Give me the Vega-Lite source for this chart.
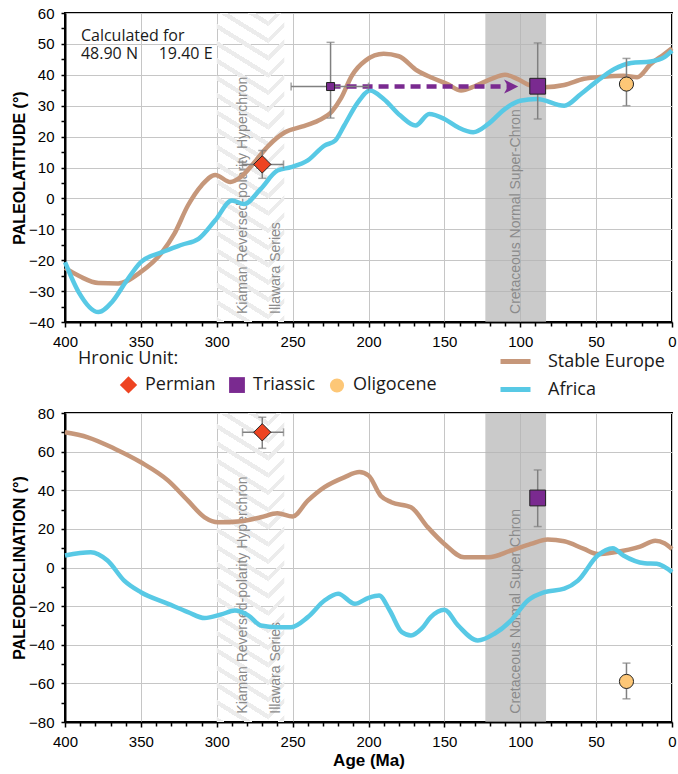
{
  "$schema": "https://vega.github.io/schema/vega-lite/v6.json",
  "padding": {"left": 10, "top": 5, "right": 0, "bottom": 2},
  "background": "white",
  "config": {
    "view": {"stroke": "black", "strokeWidth": 2},
    "font": "Liberation Sans",
    "axis": {
      "domainColor": "black", "domainWidth": 2,
      "tickColor": "black", "tickWidth": 1.5, "tickSize": 4,
      "gridColor": "#c6c6c6", "gridWidth": 1,
      "labelFont": "Liberation Sans", "labelFontSize": 15, "labelColor": "black", "labelPadding": 7,
      "labelFlush": false, "labelOverlap": false,
      "titleFont": "Liberation Sans", "titleFontWeight": "bold", "titleColor": "black"
    },
    "legend": {
      "labelFont": "Open Sans", "labelFontSize": 18, "labelColor": "#1a1a1a",
      "titleFont": "Open Sans", "titleFontSize": 18, "titleFontWeight": "normal", "titleColor": "#1a1a1a",
      "padding": 0
    }
  },
  "datasets": {
    "latitude": [
      {"plate": "Stable Europe", "age": 400, "v": -22.5},
      {"plate": "Stable Europe", "age": 390, "v": -25.3},
      {"plate": "Stable Europe", "age": 378, "v": -27.4},
      {"plate": "Stable Europe", "age": 365, "v": -27.5},
      {"plate": "Stable Europe", "age": 350, "v": -23.8},
      {"plate": "Stable Europe", "age": 336, "v": -17.4},
      {"plate": "Stable Europe", "age": 328, "v": -11.5},
      {"plate": "Stable Europe", "age": 319, "v": -2.3},
      {"plate": "Stable Europe", "age": 310, "v": 4.2},
      {"plate": "Stable Europe", "age": 301, "v": 7.6},
      {"plate": "Stable Europe", "age": 291, "v": 5.3},
      {"plate": "Stable Europe", "age": 284, "v": 7},
      {"plate": "Stable Europe", "age": 275, "v": 11.8},
      {"plate": "Stable Europe", "age": 266, "v": 17},
      {"plate": "Stable Europe", "age": 255, "v": 21.4},
      {"plate": "Stable Europe", "age": 244, "v": 23.2},
      {"plate": "Stable Europe", "age": 233, "v": 25.2},
      {"plate": "Stable Europe", "age": 224, "v": 28.2},
      {"plate": "Stable Europe", "age": 218, "v": 32.5},
      {"plate": "Stable Europe", "age": 211, "v": 39.7},
      {"plate": "Stable Europe", "age": 202, "v": 44.6},
      {"plate": "Stable Europe", "age": 190, "v": 46.8},
      {"plate": "Stable Europe", "age": 180, "v": 46},
      {"plate": "Stable Europe", "age": 168, "v": 41.4},
      {"plate": "Stable Europe", "age": 159, "v": 39.2},
      {"plate": "Stable Europe", "age": 148, "v": 37},
      {"plate": "Stable Europe", "age": 139, "v": 34.9},
      {"plate": "Stable Europe", "age": 130, "v": 36.3},
      {"plate": "Stable Europe", "age": 119, "v": 38.7},
      {"plate": "Stable Europe", "age": 110, "v": 40},
      {"plate": "Stable Europe", "age": 102, "v": 38.7},
      {"plate": "Stable Europe", "age": 93, "v": 36.5},
      {"plate": "Stable Europe", "age": 84, "v": 36},
      {"plate": "Stable Europe", "age": 71, "v": 36.7},
      {"plate": "Stable Europe", "age": 58, "v": 38.7},
      {"plate": "Stable Europe", "age": 45, "v": 39.4},
      {"plate": "Stable Europe", "age": 32, "v": 39.7},
      {"plate": "Stable Europe", "age": 23, "v": 39.2},
      {"plate": "Stable Europe", "age": 14, "v": 43.5},
      {"plate": "Stable Europe", "age": 5, "v": 46.7},
      {"plate": "Stable Europe", "age": 0, "v": 48.6},
      {"plate": "Africa", "age": 400, "v": -20.6},
      {"plate": "Africa", "age": 391, "v": -30.3},
      {"plate": "Africa", "age": 378, "v": -36.8},
      {"plate": "Africa", "age": 369, "v": -33.5},
      {"plate": "Africa", "age": 360, "v": -27.1},
      {"plate": "Africa", "age": 350, "v": -20.6},
      {"plate": "Africa", "age": 336, "v": -17.4},
      {"plate": "Africa", "age": 323, "v": -15},
      {"plate": "Africa", "age": 312, "v": -13.1},
      {"plate": "Africa", "age": 301, "v": -7.1},
      {"plate": "Africa", "age": 290, "v": -0.7},
      {"plate": "Africa", "age": 282, "v": -1.8},
      {"plate": "Africa", "age": 271, "v": 3.1},
      {"plate": "Africa", "age": 260, "v": 9},
      {"plate": "Africa", "age": 251, "v": 10.1},
      {"plate": "Africa", "age": 240, "v": 12.3},
      {"plate": "Africa", "age": 229, "v": 17.1},
      {"plate": "Africa", "age": 222, "v": 18.7},
      {"plate": "Africa", "age": 216, "v": 23.6},
      {"plate": "Africa", "age": 207, "v": 31.1},
      {"plate": "Africa", "age": 199, "v": 34.9},
      {"plate": "Africa", "age": 190, "v": 32.2},
      {"plate": "Africa", "age": 179, "v": 26.8},
      {"plate": "Africa", "age": 169, "v": 23.6},
      {"plate": "Africa", "age": 160, "v": 27.3},
      {"plate": "Africa", "age": 150, "v": 25.7},
      {"plate": "Africa", "age": 141, "v": 23},
      {"plate": "Africa", "age": 131, "v": 21.4},
      {"plate": "Africa", "age": 121, "v": 24.1},
      {"plate": "Africa", "age": 110, "v": 29},
      {"plate": "Africa", "age": 100, "v": 31.6},
      {"plate": "Africa", "age": 89, "v": 32.2},
      {"plate": "Africa", "age": 71, "v": 30},
      {"plate": "Africa", "age": 60, "v": 33.8},
      {"plate": "Africa", "age": 49, "v": 38.1},
      {"plate": "Africa", "age": 38, "v": 41.9},
      {"plate": "Africa", "age": 27, "v": 43.8},
      {"plate": "Africa", "age": 14, "v": 44.3},
      {"plate": "Africa", "age": 5, "v": 45.7},
      {"plate": "Africa", "age": 0, "v": 47.8}
    ],
    "declination": [
      {"plate": "Stable Europe", "age": 400, "v": 70},
      {"plate": "Stable Europe", "age": 385, "v": 67.4},
      {"plate": "Stable Europe", "age": 367, "v": 61.4},
      {"plate": "Stable Europe", "age": 350, "v": 54.5},
      {"plate": "Stable Europe", "age": 332, "v": 45},
      {"plate": "Stable Europe", "age": 319, "v": 34.6},
      {"plate": "Stable Europe", "age": 308, "v": 26},
      {"plate": "Stable Europe", "age": 299, "v": 23.4},
      {"plate": "Stable Europe", "age": 284, "v": 24},
      {"plate": "Stable Europe", "age": 271, "v": 26},
      {"plate": "Stable Europe", "age": 260, "v": 28.1},
      {"plate": "Stable Europe", "age": 250, "v": 26.4},
      {"plate": "Stable Europe", "age": 240, "v": 34.6},
      {"plate": "Stable Europe", "age": 229, "v": 41.6},
      {"plate": "Stable Europe", "age": 216, "v": 46.7},
      {"plate": "Stable Europe", "age": 206, "v": 49.4},
      {"plate": "Stable Europe", "age": 200, "v": 47.6},
      {"plate": "Stable Europe", "age": 192, "v": 37.2},
      {"plate": "Stable Europe", "age": 185, "v": 33.8},
      {"plate": "Stable Europe", "age": 172, "v": 31.2},
      {"plate": "Stable Europe", "age": 161, "v": 20.9},
      {"plate": "Stable Europe", "age": 150, "v": 12.2},
      {"plate": "Stable Europe", "age": 137, "v": 5.3},
      {"plate": "Stable Europe", "age": 121, "v": 5.3},
      {"plate": "Stable Europe", "age": 106, "v": 8.8},
      {"plate": "Stable Europe", "age": 93, "v": 12.2},
      {"plate": "Stable Europe", "age": 82, "v": 14.5},
      {"plate": "Stable Europe", "age": 71, "v": 13.6},
      {"plate": "Stable Europe", "age": 58, "v": 9.6},
      {"plate": "Stable Europe", "age": 49, "v": 7},
      {"plate": "Stable Europe", "age": 38, "v": 7.9},
      {"plate": "Stable Europe", "age": 21, "v": 10.8},
      {"plate": "Stable Europe", "age": 11, "v": 13.9},
      {"plate": "Stable Europe", "age": 5, "v": 12.6},
      {"plate": "Stable Europe", "age": 0, "v": 9.6},
      {"plate": "Africa", "age": 400, "v": 6.2},
      {"plate": "Africa", "age": 383, "v": 7.9},
      {"plate": "Africa", "age": 372, "v": 3.6},
      {"plate": "Africa", "age": 361, "v": -6.8},
      {"plate": "Africa", "age": 350, "v": -12.8},
      {"plate": "Africa", "age": 332, "v": -18.8},
      {"plate": "Africa", "age": 319, "v": -23.1},
      {"plate": "Africa", "age": 308, "v": -26.2},
      {"plate": "Africa", "age": 297, "v": -24.3},
      {"plate": "Africa", "age": 288, "v": -22.3},
      {"plate": "Africa", "age": 279, "v": -24.9},
      {"plate": "Africa", "age": 271, "v": -30},
      {"plate": "Africa", "age": 260, "v": -30.9},
      {"plate": "Africa", "age": 251, "v": -30.9},
      {"plate": "Africa", "age": 240, "v": -25.7},
      {"plate": "Africa", "age": 229, "v": -17.1},
      {"plate": "Africa", "age": 220, "v": -13.6},
      {"plate": "Africa", "age": 209, "v": -18.8},
      {"plate": "Africa", "age": 200, "v": -15.7},
      {"plate": "Africa", "age": 193, "v": -14.5},
      {"plate": "Africa", "age": 186, "v": -22.3},
      {"plate": "Africa", "age": 178, "v": -33.5},
      {"plate": "Africa", "age": 172, "v": -35.2},
      {"plate": "Africa", "age": 165, "v": -31.7},
      {"plate": "Africa", "age": 159, "v": -25.7},
      {"plate": "Africa", "age": 150, "v": -21.9},
      {"plate": "Africa", "age": 141, "v": -30},
      {"plate": "Africa", "age": 128, "v": -37.8},
      {"plate": "Africa", "age": 117, "v": -34.3},
      {"plate": "Africa", "age": 106, "v": -27.4},
      {"plate": "Africa", "age": 95, "v": -17.1},
      {"plate": "Africa", "age": 84, "v": -12.8},
      {"plate": "Africa", "age": 71, "v": -11},
      {"plate": "Africa", "age": 62, "v": -6.8},
      {"plate": "Africa", "age": 49, "v": 6.2},
      {"plate": "Africa", "age": 39, "v": 10},
      {"plate": "Africa", "age": 32, "v": 6.2},
      {"plate": "Africa", "age": 18, "v": 2.2},
      {"plate": "Africa", "age": 10, "v": 1.9},
      {"plate": "Africa", "age": 0, "v": -2.4}
    ],
    "results": [
      {"panel": "lat", "unit": "Permian", "kind": "final", "age": 270, "v": 11, "vlo": 6.5, "vhi": 15.5, "alo": 256, "ahi": 283},
      {"panel": "lat", "unit": "Triassic", "kind": "initial", "age": 225, "v": 36.2, "vlo": 26, "vhi": 50.5, "alo": 200, "ahi": 251},
      {"panel": "lat", "unit": "Triassic", "kind": "final", "age": 88.5, "v": 36.3, "vlo": 25.7, "vhi": 50.3},
      {"panel": "lat", "unit": "Oligocene", "kind": "final", "age": 30, "v": 37, "vlo": 30, "vhi": 45.3},
      {"panel": "dec", "unit": "Permian", "kind": "final", "age": 270, "v": 70, "vlo": 61.7, "vhi": 77.8, "alo": 256, "ahi": 283},
      {"panel": "dec", "unit": "Triassic", "kind": "final", "age": 88.5, "v": 36, "vlo": 21.2, "vhi": 50.5},
      {"panel": "dec", "unit": "Oligocene", "kind": "final", "age": 30, "v": -59, "vlo": -68, "vhi": -49.5}
    ],
    "shift": [
      {"age": 225, "v": 36.2, "head": false},
      {"age": 106, "v": 36.2, "head": true}
    ],
    "bands": [
      {"band": "Kiaman", "start": 300, "end": 266},
      {"band": "Illawara", "start": 266, "end": 255.5},
      {"band": "Cretaceous", "start": 123, "end": 83}
    ],
    "bandLabels": [
      {"age": 282.6, "text": "Kiaman Reversed-polarity Hyperchron"},
      {"age": 260.7, "text": "Illawara Series"},
      {"age": 102.8, "text": "Cretaceous Normal Super-Chron"}
    ],
    "note": [
      {"age": 389.5, "v": 55, "text": "Calculated for\n48.90 N \u00a0\u00a0\u00a0\u00a019.40 E"}
    ]
  },
  "bounds": "flush",
  "spacing": 91,
  "resolve": {"scale": {"fill": "independent", "shape": "independent", "size": "independent", "stroke": "independent"}},
  "vconcat": [
    {
      "width": 607,
      "height": 309,
      "resolve": {"axis": {"x": "independent", "y": "independent"}},
      "layer": [
        {
          "data": {"name": "bands"},
          "transform": [{"filter": "datum.band === 'Kiaman'"}],
          "mark": {"type": "rect", "fill": {"gradient": "linear", "x1": 0, "y1": 1, "x2": 0.1132, "y2": -0.092, "stops": [
            {"offset": 0, "color": "#ececec"}, {"offset": 0.0152, "color": "#ececec"}, {"offset": 0.0152, "color": "rgba(255,255,255,0)"}, {"offset": 0.0506, "color": "rgba(255,255,255,0)"},
            {"offset": 0.0506, "color": "#ececec"}, {"offset": 0.0658, "color": "#ececec"}, {"offset": 0.0658, "color": "rgba(255,255,255,0)"}, {"offset": 0.1012, "color": "rgba(255,255,255,0)"},
            {"offset": 0.1012, "color": "#ececec"}, {"offset": 0.1164, "color": "#ececec"}, {"offset": 0.1164, "color": "rgba(255,255,255,0)"}, {"offset": 0.1518, "color": "rgba(255,255,255,0)"},
            {"offset": 0.1518, "color": "#ececec"}, {"offset": 0.1669, "color": "#ececec"}, {"offset": 0.1669, "color": "rgba(255,255,255,0)"}, {"offset": 0.2023, "color": "rgba(255,255,255,0)"},
            {"offset": 0.2023, "color": "#ececec"}, {"offset": 0.2175, "color": "#ececec"}, {"offset": 0.2175, "color": "rgba(255,255,255,0)"}, {"offset": 0.2529, "color": "rgba(255,255,255,0)"},
            {"offset": 0.2529, "color": "#ececec"}, {"offset": 0.2681, "color": "#ececec"}, {"offset": 0.2681, "color": "rgba(255,255,255,0)"}, {"offset": 0.3035, "color": "rgba(255,255,255,0)"},
            {"offset": 0.3035, "color": "#ececec"}, {"offset": 0.3187, "color": "#ececec"}, {"offset": 0.3187, "color": "rgba(255,255,255,0)"}, {"offset": 0.3541, "color": "rgba(255,255,255,0)"},
            {"offset": 0.3541, "color": "#ececec"}, {"offset": 0.3693, "color": "#ececec"}, {"offset": 0.3693, "color": "rgba(255,255,255,0)"}, {"offset": 0.4047, "color": "rgba(255,255,255,0)"},
            {"offset": 0.4047, "color": "#ececec"}, {"offset": 0.4199, "color": "#ececec"}, {"offset": 0.4199, "color": "rgba(255,255,255,0)"}, {"offset": 0.4553, "color": "rgba(255,255,255,0)"},
            {"offset": 0.4553, "color": "#ececec"}, {"offset": 0.4705, "color": "#ececec"}, {"offset": 0.4705, "color": "rgba(255,255,255,0)"}, {"offset": 0.5059, "color": "rgba(255,255,255,0)"},
            {"offset": 0.5059, "color": "#ececec"}, {"offset": 0.521, "color": "#ececec"}, {"offset": 0.521, "color": "rgba(255,255,255,0)"}, {"offset": 0.5565, "color": "rgba(255,255,255,0)"},
            {"offset": 0.5565, "color": "#ececec"}, {"offset": 0.5716, "color": "#ececec"}, {"offset": 0.5716, "color": "rgba(255,255,255,0)"}, {"offset": 0.607, "color": "rgba(255,255,255,0)"},
            {"offset": 0.607, "color": "#ececec"}, {"offset": 0.6222, "color": "#ececec"}, {"offset": 0.6222, "color": "rgba(255,255,255,0)"}, {"offset": 0.6576, "color": "rgba(255,255,255,0)"},
            {"offset": 0.6576, "color": "#ececec"}, {"offset": 0.6728, "color": "#ececec"}, {"offset": 0.6728, "color": "rgba(255,255,255,0)"}, {"offset": 0.7082, "color": "rgba(255,255,255,0)"},
            {"offset": 0.7082, "color": "#ececec"}, {"offset": 0.7234, "color": "#ececec"}, {"offset": 0.7234, "color": "rgba(255,255,255,0)"}, {"offset": 0.7588, "color": "rgba(255,255,255,0)"},
            {"offset": 0.7588, "color": "#ececec"}, {"offset": 0.774, "color": "#ececec"}, {"offset": 0.774, "color": "rgba(255,255,255,0)"}, {"offset": 0.8094, "color": "rgba(255,255,255,0)"},
            {"offset": 0.8094, "color": "#ececec"}, {"offset": 0.8246, "color": "#ececec"}, {"offset": 0.8246, "color": "rgba(255,255,255,0)"}, {"offset": 0.86, "color": "rgba(255,255,255,0)"},
            {"offset": 0.86, "color": "#ececec"}, {"offset": 0.8752, "color": "#ececec"}, {"offset": 0.8752, "color": "rgba(255,255,255,0)"}, {"offset": 0.9106, "color": "rgba(255,255,255,0)"},
            {"offset": 0.9106, "color": "#ececec"}, {"offset": 0.9257, "color": "#ececec"}, {"offset": 0.9257, "color": "rgba(255,255,255,0)"}, {"offset": 0.9612, "color": "rgba(255,255,255,0)"},
            {"offset": 0.9612, "color": "#ececec"}, {"offset": 0.9763, "color": "#ececec"}, {"offset": 0.9763, "color": "rgba(255,255,255,0)"}, {"offset": 1, "color": "rgba(255,255,255,0)"}
          ]}},
          "encoding": {
            "x": {
              "field": "start", "type": "quantitative",
              "scale": {"domain": [0, 400], "reverse": true, "nice": false, "zero": false},
              "axis": {"orient": "bottom", "title": null, "values": [0, 50, 100, 150, 200, 250, 300, 350, 400], "grid": true, "tickSize": 5}
            },
            "x2": {"field": "end"}
          }
        },
        {
          "data": {"name": "bands"},
          "transform": [{"filter": "datum.band === 'Illawara'"}],
          "mark": {"type": "rect", "fill": {"gradient": "linear", "x1": 0, "y1": 0, "x2": 0.0543, "y2": 1.049, "stops": [
            {"offset": 0, "color": "rgba(255,255,255,0)"},
            {"offset": 0.0248, "color": "rgba(255,255,255,0)"}, {"offset": 0.0248, "color": "#ececec"}, {"offset": 0.0408, "color": "#ececec"}, {"offset": 0.0408, "color": "rgba(255,255,255,0)"},
            {"offset": 0.0779, "color": "rgba(255,255,255,0)"}, {"offset": 0.0779, "color": "#ececec"}, {"offset": 0.0938, "color": "#ececec"}, {"offset": 0.0938, "color": "rgba(255,255,255,0)"},
            {"offset": 0.131, "color": "rgba(255,255,255,0)"}, {"offset": 0.131, "color": "#ececec"}, {"offset": 0.1469, "color": "#ececec"}, {"offset": 0.1469, "color": "rgba(255,255,255,0)"},
            {"offset": 0.1841, "color": "rgba(255,255,255,0)"}, {"offset": 0.1841, "color": "#ececec"}, {"offset": 0.2, "color": "#ececec"}, {"offset": 0.2, "color": "rgba(255,255,255,0)"},
            {"offset": 0.2372, "color": "rgba(255,255,255,0)"}, {"offset": 0.2372, "color": "#ececec"}, {"offset": 0.2531, "color": "#ececec"}, {"offset": 0.2531, "color": "rgba(255,255,255,0)"},
            {"offset": 0.2902, "color": "rgba(255,255,255,0)"}, {"offset": 0.2902, "color": "#ececec"}, {"offset": 0.3062, "color": "#ececec"}, {"offset": 0.3062, "color": "rgba(255,255,255,0)"},
            {"offset": 0.3433, "color": "rgba(255,255,255,0)"}, {"offset": 0.3433, "color": "#ececec"}, {"offset": 0.3592, "color": "#ececec"}, {"offset": 0.3592, "color": "rgba(255,255,255,0)"},
            {"offset": 0.3964, "color": "rgba(255,255,255,0)"}, {"offset": 0.3964, "color": "#ececec"}, {"offset": 0.4123, "color": "#ececec"}, {"offset": 0.4123, "color": "rgba(255,255,255,0)"},
            {"offset": 0.4495, "color": "rgba(255,255,255,0)"}, {"offset": 0.4495, "color": "#ececec"}, {"offset": 0.4654, "color": "#ececec"}, {"offset": 0.4654, "color": "rgba(255,255,255,0)"},
            {"offset": 0.5025, "color": "rgba(255,255,255,0)"}, {"offset": 0.5025, "color": "#ececec"}, {"offset": 0.5185, "color": "#ececec"}, {"offset": 0.5185, "color": "rgba(255,255,255,0)"},
            {"offset": 0.5556, "color": "rgba(255,255,255,0)"}, {"offset": 0.5556, "color": "#ececec"}, {"offset": 0.5715, "color": "#ececec"}, {"offset": 0.5715, "color": "rgba(255,255,255,0)"},
            {"offset": 0.6087, "color": "rgba(255,255,255,0)"}, {"offset": 0.6087, "color": "#ececec"}, {"offset": 0.6246, "color": "#ececec"}, {"offset": 0.6246, "color": "rgba(255,255,255,0)"},
            {"offset": 0.6618, "color": "rgba(255,255,255,0)"}, {"offset": 0.6618, "color": "#ececec"}, {"offset": 0.6777, "color": "#ececec"}, {"offset": 0.6777, "color": "rgba(255,255,255,0)"},
            {"offset": 0.7148, "color": "rgba(255,255,255,0)"}, {"offset": 0.7148, "color": "#ececec"}, {"offset": 0.7308, "color": "#ececec"}, {"offset": 0.7308, "color": "rgba(255,255,255,0)"},
            {"offset": 0.7679, "color": "rgba(255,255,255,0)"}, {"offset": 0.7679, "color": "#ececec"}, {"offset": 0.7838, "color": "#ececec"}, {"offset": 0.7838, "color": "rgba(255,255,255,0)"},
            {"offset": 0.821, "color": "rgba(255,255,255,0)"}, {"offset": 0.821, "color": "#ececec"}, {"offset": 0.8369, "color": "#ececec"}, {"offset": 0.8369, "color": "rgba(255,255,255,0)"},
            {"offset": 0.8741, "color": "rgba(255,255,255,0)"}, {"offset": 0.8741, "color": "#ececec"}, {"offset": 0.89, "color": "#ececec"}, {"offset": 0.89, "color": "rgba(255,255,255,0)"},
            {"offset": 0.9272, "color": "rgba(255,255,255,0)"}, {"offset": 0.9272, "color": "#ececec"}, {"offset": 0.9431, "color": "#ececec"}, {"offset": 0.9431, "color": "rgba(255,255,255,0)"},
            {"offset": 0.9802, "color": "rgba(255,255,255,0)"}, {"offset": 0.9802, "color": "#ececec"}, {"offset": 0.9962, "color": "#ececec"}, {"offset": 0.9962, "color": "rgba(255,255,255,0)"},
            {"offset": 1, "color": "rgba(255,255,255,0)"}
          ]}},
          "encoding": {"x": {"field": "start", "type": "quantitative", "axis": null}, "x2": {"field": "end"}}
        },
        {
          "data": {"name": "bands"},
          "transform": [{"filter": "datum.band === 'Cretaceous'"}],
          "mark": {"type": "rect", "fill": "#b4b4b4", "opacity": 0.7},
          "encoding": {"x": {"field": "start", "type": "quantitative", "axis": null}, "x2": {"field": "end"}}
        },
        {
          "data": {"name": "bandLabels"},
          "mark": {"type": "text", "angle": 270, "align": "left", "baseline": "middle", "font": "Liberation Sans", "fontSize": 14, "color": "#8a8a8a"},
          "encoding": {
            "x": {"field": "age", "type": "quantitative", "axis": null},
            "y": {"datum": -37.4, "type": "quantitative", "axis": null},
            "text": {"field": "text"}
          }
        },
        {
          "data": {"name": "latitude"},
          "mark": {"type": "line", "interpolate": "monotone", "strokeWidth": 4.5},
          "encoding": {
            "x": {
              "field": "age", "type": "quantitative",
              "axis": {"orient": "bottom", "title": null, "values": [10, 20, 30, 40, 60, 70, 80, 90, 110, 120, 130, 140, 160, 170, 180, 190, 210, 220, 230, 240, 260, 270, 280, 290, 310, 320, 330, 340, 360, 370, 380, 390], "labels": false, "grid": false, "domain": false, "tickSize": 4}
            },
            "y": {
              "field": "v", "type": "quantitative",
              "scale": {"domain": [-40, 60], "nice": false, "zero": false},
              "axis": {"orient": "left", "title": "PALEOLATITUDE (°)", "titleFontSize": 16, "titlePadding": 1, "values": [-40, -30, -20, -10, 0, 10, 20, 30, 40, 50, 60], "grid": true, "tickSize": 4}
            },
            "stroke": {
              "field": "plate", "type": "nominal",
              "scale": {"domain": ["Stable Europe", "Africa"], "range": ["#c6977a", "#58c9e5"]},
              "legend": {
                "title": null, "orient": "none", "legendX": 433, "legendY": 331, "direction": "vertical",
                "symbolType": "stroke", "symbolStrokeWidth": 5, "symbolSize": 900, "labelOffset": 15, "rowPadding": -4
              }
            }
          }
        },
        {
          "data": {"name": "shift"},
          "mark": {"type": "line", "color": "#7a2a90", "strokeWidth": 4.5, "strokeDash": [10, 6]},
          "encoding": {"x": {"field": "age", "type": "quantitative", "axis": null}, "y": {"field": "v", "type": "quantitative", "axis": null}}
        },
        {
          "data": {"name": "shift"},
          "transform": [{"filter": "datum.head"}],
          "mark": {"type": "point", "shape": "M-1,-1L1,0L-1,1L-0.45,0Z", "size": 200, "filled": true, "color": "#7a2a90", "opacity": 1},
          "encoding": {"x": {"field": "age", "type": "quantitative", "axis": null}, "y": {"field": "v", "type": "quantitative", "axis": null}}
        },
        {
          "data": {"name": "results"},
          "transform": [{"filter": "datum.panel === 'lat'"}],
          "mark": {"type": "errorbar", "color": "#808080", "thickness": 1.5, "ticks": {"size": 8, "thickness": 1.5}},
          "encoding": {
            "x": {"field": "age", "type": "quantitative", "axis": null},
            "y": {
              "field": "vlo", "type": "quantitative",
              "axis": {"orient": "left", "title": null, "values": [-35, -25, -15, -5, 5, 15, 25, 35, 45, 55], "labels": false, "grid": false, "domain": false, "tickSize": 4}
            },
            "y2": {"field": "vhi"}
          }
        },
        {
          "data": {"name": "results"},
          "transform": [{"filter": "datum.panel === 'lat' && isValid(datum.alo)"}],
          "mark": {"type": "errorbar", "color": "#808080", "thickness": 1.5, "ticks": {"size": 8, "thickness": 1.5}},
          "encoding": {
            "y": {"field": "v", "type": "quantitative", "axis": null},
            "x": {"field": "alo", "type": "quantitative", "axis": null},
            "x2": {"field": "ahi"}
          }
        },
        {
          "data": {"name": "results"},
          "transform": [{"filter": "datum.panel === 'lat' && datum.kind === 'initial'"}],
          "mark": {"type": "point", "shape": "square", "size": 64, "filled": true, "color": "#7a2a90", "stroke": "#222", "strokeWidth": 1, "opacity": 1},
          "encoding": {"x": {"field": "age", "type": "quantitative", "axis": null}, "y": {"field": "v", "type": "quantitative", "axis": null}}
        },
        {
          "data": {"name": "results"},
          "transform": [{"filter": "datum.panel === 'lat' && datum.kind === 'final'"}],
          "mark": {"type": "point", "filled": true, "stroke": "#222", "strokeWidth": 1, "opacity": 1},
          "encoding": {
            "x": {"field": "age", "type": "quantitative", "axis": null},
            "y": {"field": "v", "type": "quantitative", "axis": null},
            "fill": {
              "field": "unit", "type": "nominal",
              "scale": {"domain": ["Permian", "Triassic", "Oligocene"], "range": ["#ee4422", "#7a2a90", "#fdc777"]},
              "legend": {"title": "Hronic Unit:", "orient": "none", "legendX": 13, "legendY": 362, "direction": "horizontal", "titleOrient": "left", "titleAnchor": "start", "titleBaseline": "line-bottom", "titleLineHeight": 32, "titlePadding": -60, "symbolStrokeColor": "#222", "symbolStrokeWidth": 1, "labelOffset": 7, "columnPadding": 11}
            },
            "shape": {
              "field": "unit", "type": "nominal",
              "scale": {"domain": ["Permian", "Triassic", "Oligocene"], "range": ["diamond", "square", "circle"]},
              "legend": {"title": "Hronic Unit:", "orient": "none", "legendX": 13, "legendY": 362, "direction": "horizontal", "titleOrient": "left", "titleAnchor": "start", "titleBaseline": "line-bottom", "titleLineHeight": 32, "titlePadding": -60, "symbolStrokeColor": "#222", "symbolStrokeWidth": 1, "labelOffset": 7, "columnPadding": 11}
            },
            "size": {
              "field": "unit", "type": "nominal",
              "scale": {"domain": ["Permian", "Triassic", "Oligocene"], "range": [300, 200, 250]},
              "legend": {"title": "Hronic Unit:", "orient": "none", "legendX": 13, "legendY": 362, "direction": "horizontal", "titleOrient": "left", "titleAnchor": "start", "titleBaseline": "line-bottom", "titleLineHeight": 32, "titlePadding": -60, "symbolStrokeColor": "#222", "symbolStrokeWidth": 1, "labelOffset": 7, "columnPadding": 11}
            }
          }
        },
        {
          "data": {"name": "note"},
          "mark": {"type": "text", "align": "left", "baseline": "top", "lineBreak": "\n", "lineHeight": 18, "font": "Open Sans", "fontSize": 16, "color": "#1a1a1a"},
          "encoding": {"x": {"field": "age", "type": "quantitative", "axis": null}, "y": {"field": "v", "type": "quantitative", "axis": null}, "text": {"field": "text"}}
        }
      ]
    },
    {
      "width": 607,
      "height": 309,
      "resolve": {"axis": {"x": "independent", "y": "independent"}},
      "layer": [
        {
          "data": {"name": "bands"},
          "transform": [{"filter": "datum.band === 'Kiaman'"}],
          "mark": {"type": "rect", "fill": {"gradient": "linear", "x1": 0, "y1": 1, "x2": 0.1132, "y2": -0.092, "stops": [
            {"offset": 0, "color": "#ececec"}, {"offset": 0.0152, "color": "#ececec"}, {"offset": 0.0152, "color": "rgba(255,255,255,0)"}, {"offset": 0.0506, "color": "rgba(255,255,255,0)"},
            {"offset": 0.0506, "color": "#ececec"}, {"offset": 0.0658, "color": "#ececec"}, {"offset": 0.0658, "color": "rgba(255,255,255,0)"}, {"offset": 0.1012, "color": "rgba(255,255,255,0)"},
            {"offset": 0.1012, "color": "#ececec"}, {"offset": 0.1164, "color": "#ececec"}, {"offset": 0.1164, "color": "rgba(255,255,255,0)"}, {"offset": 0.1518, "color": "rgba(255,255,255,0)"},
            {"offset": 0.1518, "color": "#ececec"}, {"offset": 0.1669, "color": "#ececec"}, {"offset": 0.1669, "color": "rgba(255,255,255,0)"}, {"offset": 0.2023, "color": "rgba(255,255,255,0)"},
            {"offset": 0.2023, "color": "#ececec"}, {"offset": 0.2175, "color": "#ececec"}, {"offset": 0.2175, "color": "rgba(255,255,255,0)"}, {"offset": 0.2529, "color": "rgba(255,255,255,0)"},
            {"offset": 0.2529, "color": "#ececec"}, {"offset": 0.2681, "color": "#ececec"}, {"offset": 0.2681, "color": "rgba(255,255,255,0)"}, {"offset": 0.3035, "color": "rgba(255,255,255,0)"},
            {"offset": 0.3035, "color": "#ececec"}, {"offset": 0.3187, "color": "#ececec"}, {"offset": 0.3187, "color": "rgba(255,255,255,0)"}, {"offset": 0.3541, "color": "rgba(255,255,255,0)"},
            {"offset": 0.3541, "color": "#ececec"}, {"offset": 0.3693, "color": "#ececec"}, {"offset": 0.3693, "color": "rgba(255,255,255,0)"}, {"offset": 0.4047, "color": "rgba(255,255,255,0)"},
            {"offset": 0.4047, "color": "#ececec"}, {"offset": 0.4199, "color": "#ececec"}, {"offset": 0.4199, "color": "rgba(255,255,255,0)"}, {"offset": 0.4553, "color": "rgba(255,255,255,0)"},
            {"offset": 0.4553, "color": "#ececec"}, {"offset": 0.4705, "color": "#ececec"}, {"offset": 0.4705, "color": "rgba(255,255,255,0)"}, {"offset": 0.5059, "color": "rgba(255,255,255,0)"},
            {"offset": 0.5059, "color": "#ececec"}, {"offset": 0.521, "color": "#ececec"}, {"offset": 0.521, "color": "rgba(255,255,255,0)"}, {"offset": 0.5565, "color": "rgba(255,255,255,0)"},
            {"offset": 0.5565, "color": "#ececec"}, {"offset": 0.5716, "color": "#ececec"}, {"offset": 0.5716, "color": "rgba(255,255,255,0)"}, {"offset": 0.607, "color": "rgba(255,255,255,0)"},
            {"offset": 0.607, "color": "#ececec"}, {"offset": 0.6222, "color": "#ececec"}, {"offset": 0.6222, "color": "rgba(255,255,255,0)"}, {"offset": 0.6576, "color": "rgba(255,255,255,0)"},
            {"offset": 0.6576, "color": "#ececec"}, {"offset": 0.6728, "color": "#ececec"}, {"offset": 0.6728, "color": "rgba(255,255,255,0)"}, {"offset": 0.7082, "color": "rgba(255,255,255,0)"},
            {"offset": 0.7082, "color": "#ececec"}, {"offset": 0.7234, "color": "#ececec"}, {"offset": 0.7234, "color": "rgba(255,255,255,0)"}, {"offset": 0.7588, "color": "rgba(255,255,255,0)"},
            {"offset": 0.7588, "color": "#ececec"}, {"offset": 0.774, "color": "#ececec"}, {"offset": 0.774, "color": "rgba(255,255,255,0)"}, {"offset": 0.8094, "color": "rgba(255,255,255,0)"},
            {"offset": 0.8094, "color": "#ececec"}, {"offset": 0.8246, "color": "#ececec"}, {"offset": 0.8246, "color": "rgba(255,255,255,0)"}, {"offset": 0.86, "color": "rgba(255,255,255,0)"},
            {"offset": 0.86, "color": "#ececec"}, {"offset": 0.8752, "color": "#ececec"}, {"offset": 0.8752, "color": "rgba(255,255,255,0)"}, {"offset": 0.9106, "color": "rgba(255,255,255,0)"},
            {"offset": 0.9106, "color": "#ececec"}, {"offset": 0.9257, "color": "#ececec"}, {"offset": 0.9257, "color": "rgba(255,255,255,0)"}, {"offset": 0.9612, "color": "rgba(255,255,255,0)"},
            {"offset": 0.9612, "color": "#ececec"}, {"offset": 0.9763, "color": "#ececec"}, {"offset": 0.9763, "color": "rgba(255,255,255,0)"}, {"offset": 1, "color": "rgba(255,255,255,0)"}
          ]}},
          "encoding": {
            "x": {
              "field": "start", "type": "quantitative",
              "scale": {"domain": [0, 400], "reverse": true, "nice": false, "zero": false},
              "axis": {"orient": "bottom", "title": "Age (Ma)", "titleFontSize": 17, "titlePadding": 3, "values": [0, 50, 100, 150, 200, 250, 300, 350, 400], "grid": true, "tickSize": 5}
            },
            "x2": {"field": "end"}
          }
        },
        {
          "data": {"name": "bands"},
          "transform": [{"filter": "datum.band === 'Illawara'"}],
          "mark": {"type": "rect", "fill": {"gradient": "linear", "x1": 0, "y1": 0, "x2": 0.0543, "y2": 1.049, "stops": [
            {"offset": 0, "color": "rgba(255,255,255,0)"},
            {"offset": 0.0248, "color": "rgba(255,255,255,0)"}, {"offset": 0.0248, "color": "#ececec"}, {"offset": 0.0408, "color": "#ececec"}, {"offset": 0.0408, "color": "rgba(255,255,255,0)"},
            {"offset": 0.0779, "color": "rgba(255,255,255,0)"}, {"offset": 0.0779, "color": "#ececec"}, {"offset": 0.0938, "color": "#ececec"}, {"offset": 0.0938, "color": "rgba(255,255,255,0)"},
            {"offset": 0.131, "color": "rgba(255,255,255,0)"}, {"offset": 0.131, "color": "#ececec"}, {"offset": 0.1469, "color": "#ececec"}, {"offset": 0.1469, "color": "rgba(255,255,255,0)"},
            {"offset": 0.1841, "color": "rgba(255,255,255,0)"}, {"offset": 0.1841, "color": "#ececec"}, {"offset": 0.2, "color": "#ececec"}, {"offset": 0.2, "color": "rgba(255,255,255,0)"},
            {"offset": 0.2372, "color": "rgba(255,255,255,0)"}, {"offset": 0.2372, "color": "#ececec"}, {"offset": 0.2531, "color": "#ececec"}, {"offset": 0.2531, "color": "rgba(255,255,255,0)"},
            {"offset": 0.2902, "color": "rgba(255,255,255,0)"}, {"offset": 0.2902, "color": "#ececec"}, {"offset": 0.3062, "color": "#ececec"}, {"offset": 0.3062, "color": "rgba(255,255,255,0)"},
            {"offset": 0.3433, "color": "rgba(255,255,255,0)"}, {"offset": 0.3433, "color": "#ececec"}, {"offset": 0.3592, "color": "#ececec"}, {"offset": 0.3592, "color": "rgba(255,255,255,0)"},
            {"offset": 0.3964, "color": "rgba(255,255,255,0)"}, {"offset": 0.3964, "color": "#ececec"}, {"offset": 0.4123, "color": "#ececec"}, {"offset": 0.4123, "color": "rgba(255,255,255,0)"},
            {"offset": 0.4495, "color": "rgba(255,255,255,0)"}, {"offset": 0.4495, "color": "#ececec"}, {"offset": 0.4654, "color": "#ececec"}, {"offset": 0.4654, "color": "rgba(255,255,255,0)"},
            {"offset": 0.5025, "color": "rgba(255,255,255,0)"}, {"offset": 0.5025, "color": "#ececec"}, {"offset": 0.5185, "color": "#ececec"}, {"offset": 0.5185, "color": "rgba(255,255,255,0)"},
            {"offset": 0.5556, "color": "rgba(255,255,255,0)"}, {"offset": 0.5556, "color": "#ececec"}, {"offset": 0.5715, "color": "#ececec"}, {"offset": 0.5715, "color": "rgba(255,255,255,0)"},
            {"offset": 0.6087, "color": "rgba(255,255,255,0)"}, {"offset": 0.6087, "color": "#ececec"}, {"offset": 0.6246, "color": "#ececec"}, {"offset": 0.6246, "color": "rgba(255,255,255,0)"},
            {"offset": 0.6618, "color": "rgba(255,255,255,0)"}, {"offset": 0.6618, "color": "#ececec"}, {"offset": 0.6777, "color": "#ececec"}, {"offset": 0.6777, "color": "rgba(255,255,255,0)"},
            {"offset": 0.7148, "color": "rgba(255,255,255,0)"}, {"offset": 0.7148, "color": "#ececec"}, {"offset": 0.7308, "color": "#ececec"}, {"offset": 0.7308, "color": "rgba(255,255,255,0)"},
            {"offset": 0.7679, "color": "rgba(255,255,255,0)"}, {"offset": 0.7679, "color": "#ececec"}, {"offset": 0.7838, "color": "#ececec"}, {"offset": 0.7838, "color": "rgba(255,255,255,0)"},
            {"offset": 0.821, "color": "rgba(255,255,255,0)"}, {"offset": 0.821, "color": "#ececec"}, {"offset": 0.8369, "color": "#ececec"}, {"offset": 0.8369, "color": "rgba(255,255,255,0)"},
            {"offset": 0.8741, "color": "rgba(255,255,255,0)"}, {"offset": 0.8741, "color": "#ececec"}, {"offset": 0.89, "color": "#ececec"}, {"offset": 0.89, "color": "rgba(255,255,255,0)"},
            {"offset": 0.9272, "color": "rgba(255,255,255,0)"}, {"offset": 0.9272, "color": "#ececec"}, {"offset": 0.9431, "color": "#ececec"}, {"offset": 0.9431, "color": "rgba(255,255,255,0)"},
            {"offset": 0.9802, "color": "rgba(255,255,255,0)"}, {"offset": 0.9802, "color": "#ececec"}, {"offset": 0.9962, "color": "#ececec"}, {"offset": 0.9962, "color": "rgba(255,255,255,0)"},
            {"offset": 1, "color": "rgba(255,255,255,0)"}
          ]}},
          "encoding": {"x": {"field": "start", "type": "quantitative", "axis": null}, "x2": {"field": "end"}}
        },
        {
          "data": {"name": "bands"},
          "transform": [{"filter": "datum.band === 'Cretaceous'"}],
          "mark": {"type": "rect", "fill": "#b4b4b4", "opacity": 0.7},
          "encoding": {"x": {"field": "start", "type": "quantitative", "axis": null}, "x2": {"field": "end"}}
        },
        {
          "data": {"name": "bandLabels"},
          "mark": {"type": "text", "angle": 270, "align": "left", "baseline": "middle", "font": "Liberation Sans", "fontSize": 14, "color": "#8a8a8a"},
          "encoding": {
            "x": {"field": "age", "type": "quantitative", "axis": null},
            "y": {"datum": -75.7, "type": "quantitative", "axis": null},
            "text": {"field": "text"}
          }
        },
        {
          "data": {"name": "declination"},
          "mark": {"type": "line", "interpolate": "monotone", "strokeWidth": 4.5},
          "encoding": {
            "x": {
              "field": "age", "type": "quantitative",
              "axis": {"orient": "bottom", "title": null, "values": [10, 20, 30, 40, 60, 70, 80, 90, 110, 120, 130, 140, 160, 170, 180, 190, 210, 220, 230, 240, 260, 270, 280, 290, 310, 320, 330, 340, 360, 370, 380, 390], "labels": false, "grid": false, "domain": false, "tickSize": 4}
            },
            "y": {
              "field": "v", "type": "quantitative",
              "scale": {"domain": [-80, 80], "nice": false, "zero": false},
              "axis": {"orient": "left", "title": "PALEODECLINATION (°)", "titleFontSize": 16, "titlePadding": 1, "values": [-80, -60, -40, -20, 0, 20, 40, 60, 80], "grid": true, "tickSize": 4}
            },
            "stroke": {
              "field": "plate", "type": "nominal",
              "scale": {"domain": ["Stable Europe", "Africa"], "range": ["#c6977a", "#58c9e5"]},
              "legend": null
            }
          }
        },
        {
          "data": {"name": "results"},
          "transform": [{"filter": "datum.panel === 'dec'"}],
          "mark": {"type": "errorbar", "color": "#808080", "thickness": 1.5, "ticks": {"size": 8, "thickness": 1.5}},
          "encoding": {
            "x": {"field": "age", "type": "quantitative", "axis": null},
            "y": {
              "field": "vlo", "type": "quantitative",
              "axis": {"orient": "left", "title": null, "values": [-70, -50, -30, -10, 10, 30, 50, 70], "labels": false, "grid": false, "domain": false, "tickSize": 4}
            },
            "y2": {"field": "vhi"}
          }
        },
        {
          "data": {"name": "results"},
          "transform": [{"filter": "datum.panel === 'dec' && isValid(datum.alo)"}],
          "mark": {"type": "errorbar", "color": "#808080", "thickness": 1.5, "ticks": {"size": 8, "thickness": 1.5}},
          "encoding": {
            "y": {"field": "v", "type": "quantitative", "axis": null},
            "x": {"field": "alo", "type": "quantitative", "axis": null},
            "x2": {"field": "ahi"}
          }
        },
        {
          "data": {"name": "results"},
          "transform": [{"filter": "datum.panel === 'dec'"}],
          "mark": {"type": "point", "filled": true, "stroke": "#222", "strokeWidth": 1, "opacity": 1},
          "encoding": {
            "x": {"field": "age", "type": "quantitative", "axis": null},
            "y": {"field": "v", "type": "quantitative", "axis": null},
            "fill": {"field": "unit", "type": "nominal", "scale": {"domain": ["Permian", "Triassic", "Oligocene"], "range": ["#ee4422", "#7a2a90", "#fdc777"]}, "legend": null},
            "shape": {"field": "unit", "type": "nominal", "scale": {"domain": ["Permian", "Triassic", "Oligocene"], "range": ["diamond", "square", "circle"]}, "legend": null},
            "size": {"field": "unit", "type": "nominal", "scale": {"domain": ["Permian", "Triassic", "Oligocene"], "range": [300, 200, 250]}, "legend": null}
          }
        }
      ]
    }
  ]
}
